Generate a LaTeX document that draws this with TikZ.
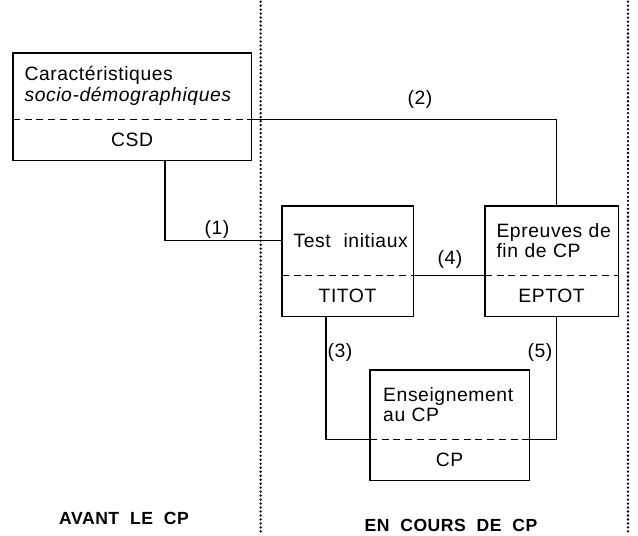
\documentclass[tikz,border=0pt]{standalone}
\usepackage{fontspec}
\setmainfont{Liberation Sans}[LetterSpace=3]
\usetikzlibrary{positioning}

\begin{document}
\begin{tikzpicture}[
  font=\fontsize{16.5}{17.5}\selectfont,
  line width=0.9pt,
  haut/.style={minimum height=2.04cm,inner xsep=0.33cm,inner ysep=0pt,align=left,anchor=north west},
  bas/.style={minimum height=1.2cm,inner xsep=0.33cm,inner ysep=0pt,align=center},
  sep/.style={line width=0.8pt,dash pattern=on 6pt off 4pt},
  num/.style={inner sep=1pt},
  phase/.style={font=\fontsize{15}{16}\selectfont\bfseries},
  pointille/.style={line width=2.2pt,line cap=round,dash pattern=on 0pt off 3.4pt}
]
  \useasboundingbox (0,0) rectangle (19.14,16.05);

  % periodes
  \draw[pointille] (7.82,16.0) -- (7.82,0);
  \draw[pointille] (18.84,16.0) -- (18.84,0);
  \node[phase] (avant) at (3.72,0.51) {AVANT\ \ LE\ \ CP};
  \node[phase] (encours) at (13.53,0.30) {EN\ \ COURS\ \ DE\ \ CP};

  % variables
  \node[haut,text width=6.45cm,minimum height=1.95cm] (csd) at (0.39,14.46)
    {Caractéristiques\\\textit{socio-démographiques}};
  \node[bas,text width=6.45cm,below=0pt of csd] (csd-code) {CSD};
  \node[haut,text width=3.24cm] (titot) at (8.46,9.87) {\mbox{Test\ \ initiaux}};
  \node[bas,text width=3.24cm,below=0pt of titot] (titot-code) {TITOT};
  \node[haut,text width=3.30cm] (eptot) at (14.55,9.87) {\mbox{Epreuves de}\\fin de CP};
  \node[bas,text width=3.30cm,below=0pt of eptot] (eptot-code) {EPTOT};
  \node[haut,text width=3.98cm,inner xsep=0.38cm] (cp) at (11.1,4.95) {Enseignement\\au CP};
  \node[bas,text width=3.98cm,inner xsep=0.38cm,below=0pt of cp] (cp-code) {CP};

  \foreach \b in {csd,titot,eptot,cp}{
    \draw (\b.north west) rectangle (\b-code.south east);
    \draw[sep] (\b.south west) -- (\b.south east);
  }

  % liens
  \draw (titot.west) -| (csd-code.south -| 4.95,0);
  \draw (csd.south east) -| (eptot.north -| 16.7,0);
  \draw (titot.south east) -- (eptot.south west);
  \draw (titot-code.south -| 9.78,0) |- (cp.south west);
  \draw (eptot-code.south -| 16.7,0) |- (cp.south east);

  \node[num] (n1) at (6.51,9.15) {(1)};
  \node[num] (n2) at (12.6,13.05) {(2)};
  \node[num] (n3) at (10.2,5.46) {(3)};
  \node[num] (n4) at (13.5,8.25) {(4)};
  \node[num] (n5) at (16.2,5.46) {(5)};
\end{tikzpicture}
\end{document}
